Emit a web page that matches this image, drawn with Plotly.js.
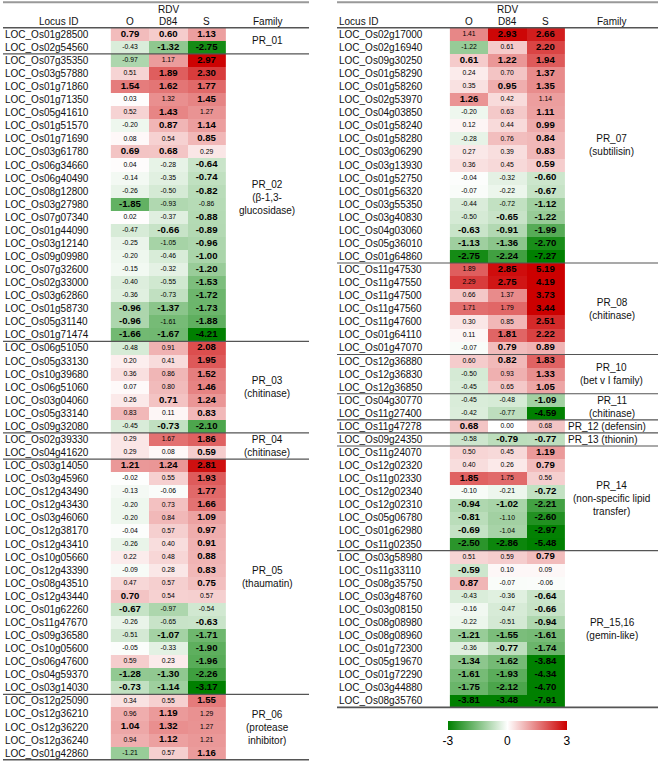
<!DOCTYPE html>
<html><head><meta charset="utf-8">
<script src="https://cdn.plot.ly/plotly-3.0.1.min.js"></script>
<style>html,body{margin:0;padding:0;background:#fff}#chart{width:661px;height:763px}</style>
</head><body><div id="chart"></div>
<script>
// ---------- DATA ----------
const columns = ["O", "D84", "S"];

const leftLoci = ["LOC_Os01g28500","LOC_Os02g54560","LOC_Os07g35350","LOC_Os03g57880","LOC_Os01g71860","LOC_Os01g71350","LOC_Os05g41610","LOC_Os01g51570","LOC_Os01g71690","LOC_Os03g61780","LOC_Os06g34660","LOC_Os06g40490","LOC_Os08g12800","LOC_Os03g27980","LOC_Os07g07340","LOC_Os01g44090","LOC_Os03g12140","LOC_Os09g09980","LOC_Os07g32600","LOC_Os02g33000","LOC_Os03g62860","LOC_Os01g58730","LOC_Os05g31140","LOC_Os01g71474","LOC_Os06g51050","LOC_Os05g33130","LOC_Os10g39680","LOC_Os06g51060","LOC_Os03g04060","LOC_Os05g33140","LOC_Os09g32080","LOC_Os02g39330","LOC_Os04g41620","LOC_Os03g14050","LOC_Os03g45960","LOC_Os12g43490","LOC_Os12g43430","LOC_Os03g46060","LOC_Os12g38170","LOC_Os12g43410","LOC_Os10g05660","LOC_Os12g43390","LOC_Os08g43510","LOC_Os12g43440","LOC_Os01g62260","LOC_Os11g47670","LOC_Os09g36580","LOC_Os10g05600","LOC_Os06g47600","LOC_Os04g59370","LOC_Os03g14030","LOC_Os12g25090","LOC_Os12g36210","LOC_Os12g36220","LOC_Os12g36240","LOC_Os01g42860"];
const leftO   = [0.79,-0.43,-0.97,0.51,1.54,0.03,0.52,-0.20,0.08,0.69,0.04,-0.14,-0.26,-1.85,0.02,-0.47,-0.25,-0.20,-0.15,-0.40,-0.36,-0.96,-0.96,-1.66,-0.48,0.20,0.36,0.07,0.26,0.83,-0.45,0.29,0.29,1.21,-0.02,-0.13,-0.20,-0.20,-0.04,-0.26,0.22,-0.09,0.47,0.70,-0.67,-0.26,-0.51,-0.05,0.59,-1.28,-0.73,0.34,0.96,1.04,0.94,-1.21];
const leftD84 = [0.60,-1.32,1.17,1.89,1.62,1.32,1.43,0.87,0.54,0.68,-0.28,-0.35,-0.50,-0.93,-0.37,-0.66,-1.05,-0.46,-0.32,-0.55,-0.73,-1.37,-1.61,-1.67,0.91,0.41,0.86,0.80,0.71,0.11,-0.73,1.67,0.08,1.24,0.55,-0.06,0.73,0.84,0.57,0.40,0.48,0.28,0.57,0.54,-0.97,-0.65,-1.07,-0.33,0.23,-1.30,-1.14,0.55,1.19,1.32,1.12,0.57];
const leftS   = [1.13,-2.75,2.97,2.30,1.77,1.45,1.27,1.14,0.85,0.29,-0.64,-0.74,-0.82,-0.86,-0.88,-0.89,-0.96,-1.00,-1.20,-1.53,-1.72,-1.73,-1.88,-4.21,2.08,1.95,1.52,1.46,1.24,0.83,-2.10,1.86,0.59,2.81,1.93,1.77,1.66,1.09,0.97,0.91,0.88,0.83,0.75,0.57,-0.54,-0.63,-1.71,-1.90,-1.96,-2.26,-3.17,1.55,1.29,1.27,1.21,1.16];
// significance flags (bold) for O, D84, S
const leftSig = ["111","011","001","011","111","001","010","011","001","110","001","001","001","100","001","011","001","001","001","001","001","111","101","111","001","001","001","001","011","001","011","001","001","111","001","001","001","001","001","001","001","001","001","100","100","001","011","001","001","111","111","001","010","110","010","001"];
const leftFamilies = ["PR_01","PR_02<br>(β-1,3-<br>glucosidase)","PR_03<br>(chitinase)","PR_04<br>(chitinase)","PR_05<br>(thaumatin)","PR_06<br>(protease<br>inhibitor)"];
const leftFamilySizes = [2,22,7,2,18,5];

const rightLoci = ["LOC_Os02g17000","LOC_Os02g16940","LOC_Os09g30250","LOC_Os01g58290","LOC_Os01g58260","LOC_Os02g53970","LOC_Os04g03850","LOC_Os01g58240","LOC_Os01g58280","LOC_Os03g06290","LOC_Os03g13930","LOC_Os01g52750","LOC_Os01g56320","LOC_Os03g55350","LOC_Os03g40830","LOC_Os04g03060","LOC_Os05g36010","LOC_Os01g64860","LOC_Os11g47530","LOC_Os11g47550","LOC_Os11g47500","LOC_Os11g47560","LOC_Os11g47600","LOC_Os01g64110","LOC_Os01g47070","LOC_Os12g36880","LOC_Os12g36830","LOC_Os12g36850","LOC_Os04g30770","LOC_Os11g27400","LOC_Os11g47278","LOC_Os09g24350","LOC_Os11g24070","LOC_Os12g02320","LOC_Os11g02330","LOC_Os12g02340","LOC_Os12g02310","LOC_Os05g06780","LOC_Os01g62980","LOC_Os11g02350","LOC_Os03g58980","LOC_Os11g33110","LOC_Os08g35750","LOC_Os03g48760","LOC_Os03g08150","LOC_Os08g08980","LOC_Os08g08960","LOC_Os01g72300","LOC_Os05g19670","LOC_Os01g72290","LOC_Os03g44880","LOC_Os08g35760"];
const rightO   = [1.41,-1.22,0.61,0.24,0.35,1.26,-0.20,0.12,-0.28,0.27,0.36,-0.04,-0.07,-0.44,-0.50,-0.63,-1.13,-2.75,1.89,2.29,0.66,1.71,0.30,0.11,-0.07,0.60,-0.50,-0.45,-0.45,-0.42,0.68,-0.58,0.50,0.40,1.85,-0.10,-0.94,-0.81,-0.69,-2.50,0.51,-0.59,0.87,-0.43,-0.16,-0.22,-1.21,-0.36,-1.34,-1.61,-1.75,-3.81];
const rightD84 = [2.93,0.61,1.22,0.70,0.95,0.42,0.63,0.44,0.76,0.39,0.45,-0.32,-0.22,-0.72,-0.65,-0.91,-1.36,-2.24,2.85,2.75,1.37,1.79,0.85,1.81,0.79,0.82,0.93,0.65,-0.48,-0.77,0.00,-0.79,0.45,0.26,1.75,-0.21,-1.02,-1.10,-1.04,-2.86,0.59,0.10,-0.07,-0.36,-0.47,-0.51,-1.55,-0.77,-1.62,-1.93,-2.12,-3.48];
const rightS   = [2.66,2.20,1.94,1.37,1.35,1.14,1.11,0.99,0.84,0.83,0.59,-0.60,-0.67,-1.12,-1.22,-1.99,-2.70,-7.27,5.19,4.19,3.73,3.44,2.51,2.22,0.89,1.83,1.33,1.05,-1.09,-4.59,0.68,-0.77,1.19,0.79,0.56,-0.72,-2.21,-2.60,-2.97,-5.48,0.79,0.09,-0.06,-0.64,-0.66,-0.94,-1.61,-1.74,-3.84,-4.34,-4.70,-7.91];
const rightSig = ["011","001","111","001","011","100","001","001","001","001","001","001","001","001","011","111","111","111","011","011","001","001","001","011","011","011","001","001","001","001","100","011","001","001","100","001","111","101","101","111","001","100","100","001","001","001","111","011","111","111","111","111"];
const rightFamilies = ["PR_07<br>(subtilisin)","PR_08<br>(chitinase)","PR_10<br>(bet v I family)","PR_11<br>(chitinase)","PR_12 (defensin)","PR_13 (thionin)","PR_14<br>(non-specific lipid<br>transfer)","PR_15,16<br>(gemin-like)"];
const rightFamilySizes = [18,7,3,2,1,1,8,12];

const colorbarTicks = [-3, 0, 3];
const colorbarTickText = ["-3", "0", "3"];

// ---------- STYLE / LAYOUT ----------
const FONT = "Liberation Sans, Arial, sans-serif";
const colorscale = [[0,"rgb(0,128,0)"],[0.5,"rgb(255,255,255)"],[1,"rgb(204,0,0)"]];
const lineColor = "#555";
const LABEL_SIZE = 10;

const traces = [], shapes = [], annotations = [];

function buildTable(cfg) {
  const rows = cfg.loci.map((_, i) => i);
  const z = rows.map(i => [cfg.O[i], cfg.D[i], cfg.S[i]]);
  traces.push({
    type: "heatmap", x: [0,1,2], y: rows, z: z,
    xaxis: cfg.xa, yaxis: "y",
    colorscale: colorscale, zmin: -3, zmax: 3,
    showscale: cfg.showscale, hoverinfo: "skip",
    colorbar: {
      orientation: "h", x: 0.7675, xanchor: "center", xref: "paper",
      y: 1 - 721/763, yanchor: "top", yref: "paper",
      len: 119, lenmode: "pixels", thickness: 9,
      xpad: 0, ypad: 0, outlinewidth: 0,
      tickvals: colorbarTicks, ticktext: colorbarTickText, ticks: "",
      tickfont: {family: FONT, size: 12, color: "#000"}
    }
  });
  // cell values
  const tx = [], ty = [], tt = [], ts = [];
  const series = [cfg.O, cfg.D, cfg.S];
  rows.forEach(i => {
    for (let c = 0; c < 3; c++) {
      const v = series[c][i];
      const bold = cfg.sig[i][c] === "1";
      const s = v.toFixed(2);
      tx.push(c); ty.push(i);
      tt.push(bold ? "<b>" + s + "</b>" : s);
      ts.push(bold ? 9.6 : 6.8);
    }
  });
  traces.push({
    type: "scatter", mode: "text", x: tx, y: ty, text: tt,
    textposition: "middle center",
    textfont: {family: FONT, size: ts, color: "#000"},
    xaxis: cfg.xa, yaxis: "y", hoverinfo: "skip", showlegend: false
  });
  const xr = cfg.xa;
  // locus labels
  rows.forEach(i => annotations.push({
    xref: xr, yref: "y", x: cfg.locusX, y: i, xanchor: "left", yanchor: "middle",
    text: cfg.loci[i], showarrow: false, font: {family: FONT, size: LABEL_SIZE, color: "#111"}
  }));
  // headers
  const hdr = (x, y, t, anchor) => annotations.push({xref: xr, yref: "y", x: x, y: y, text: t,
    xanchor: anchor || "center", yanchor: "middle", showarrow: false,
    font: {family: FONT, size: LABEL_SIZE, color: "#111"}});
  hdr(cfg.headerLocusX, -0.95, "Locus ID", "left");
  hdr(1, -1.86, "RDV");
  columns.forEach((c, k) => hdr(k, -0.95, c));
  hdr(cfg.familyX, -0.95, "Family");
  // lines
  const hline = (y, w, col) => shapes.push({type: "line", xref: xr, yref: "y",
    x0: cfg.lineX0, x1: cfg.lineX1, y0: y, y1: y, line: {color: col || lineColor, width: w}});
  hline(-2.45, 2, "#999");
  hline(-0.5, 1.4);
  let start = 0;
  cfg.families.forEach((f, k) => {
    const sz = cfg.sizes[k];
    const mid = start + (sz - 1) / 2;
    const single = f.indexOf("<br>") < 0 && f.indexOf("(") >= 0;
    annotations.push({xref: xr, yref: "y", x: single ? cfg.familyLeftX : cfg.familyX, y: mid,
      xanchor: single ? "left" : "center", yanchor: "middle", align: "center",
      text: f, showarrow: false, font: {family: FONT, size: LABEL_SIZE, color: "#111"}});
    start += sz;
    hline(start - 0.5, k === cfg.families.length - 1 ? 1.6 : 1.2);
  });
}

buildTable({xa: "x", loci: leftLoci, O: leftO, D: leftD84, S: leftS, sig: leftSig,
  families: leftFamilies, sizes: leftFamilySizes, showscale: false,
  locusX: -3.31, headerLocusX: -2.42, familyX: 3.577, familyLeftX: 2.5,
  lineX0: -3.316, lineX1: 4.674});
buildTable({xa: "x2", loci: rightLoci, O: rightO, D: rightD84, S: rightS, sig: rightSig,
  families: rightFamilies, sizes: rightFamilySizes, showscale: true,
  locusX: -3.45, headerLocusX: -3.45, familyX: 3.743, familyLeftX: 2.545,
  lineX0: -3.455, lineX1: 4.948});

const axBase = {showgrid: false, zeroline: false, showticklabels: false, ticks: "", showline: false, fixedrange: true};
const layout = {
  width: 661, height: 763,
  margin: {l: 0, r: 0, t: 0, b: 0},
  paper_bgcolor: "#fff", plot_bgcolor: "rgba(0,0,0,0)",
  showlegend: false,
  xaxis: Object.assign({}, axBase, {domain: [0, 0.5], range: [-130/38.3, (330.5-130)/38.3], anchor: "y"}),
  xaxis2: Object.assign({}, axBase, {domain: [0.5, 1], range: [(330.5-469)/38.2, (661-469)/38.2], anchor: "y"}),
  yaxis: Object.assign({}, axBase, {domain: [0, 1], range: [(763-34.3)/13.07, -34.3/13.07]}),
  shapes: shapes, annotations: annotations,
  font: {family: FONT}
};
Plotly.newPlot("chart", traces, layout, {displayModeBar: false, staticPlot: true});
</script></body></html>
